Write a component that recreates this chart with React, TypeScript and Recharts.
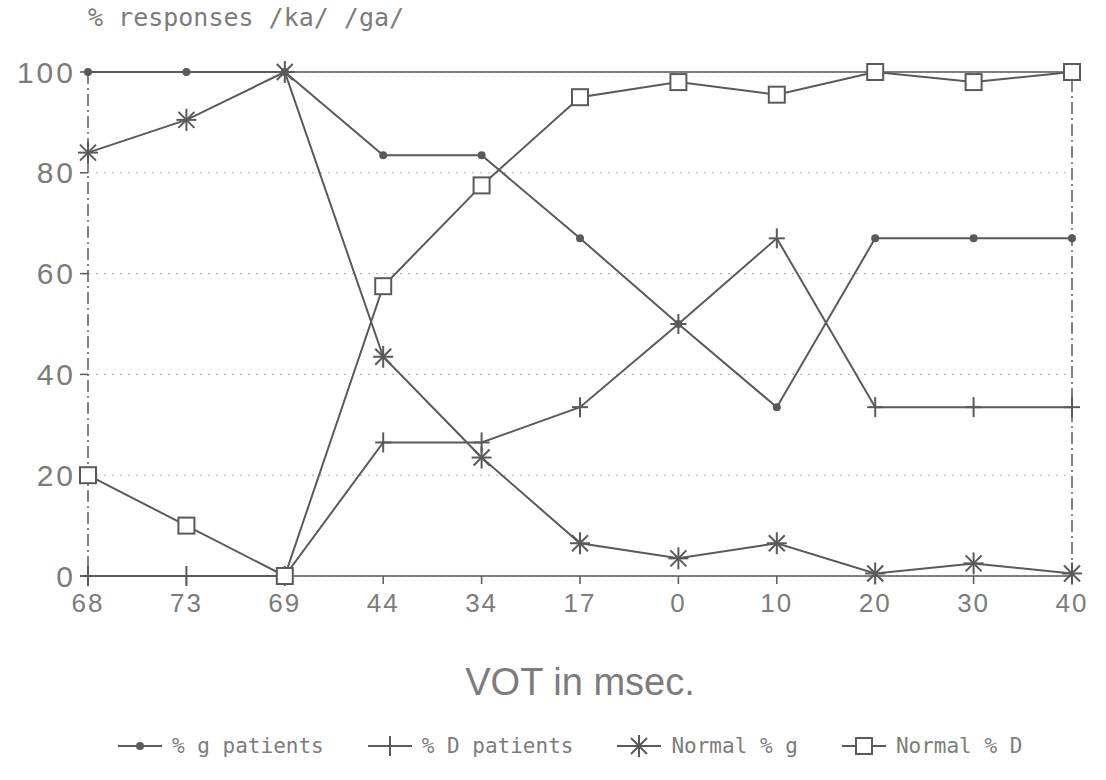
import React from 'react';
import {
  LineChart,
  Line,
  XAxis,
  YAxis,
  CartesianGrid,
  ReferenceLine,
  Label
} from 'recharts';

// VOT steps, as printed under the x axis
const votSteps = ['68', '73', '69', '44', '34', '17', '0', '10', '20', '30', '40'];

// % responses
const gPatients = [100, 100, 100, 83.5, 83.5, 67, 50, 33.5, 67, 67, 67];
const dPatients = [0, 0, 0, 26.5, 26.5, 33.5, 50, 67, 33.5, 33.5, 33.5];
const normalG = [84, 90.5, 100, 43.5, 23.5, 6.5, 3.5, 6.5, 0.5, 2.5, 0.5];
const normalD = [20, 10, 0, 57.5, 77.5, 95, 98, 95.5, 100, 98, 100];

const yTicks = [0, 20, 40, 60, 80, 100];

const chartData = votSteps.map((vot, i) => ({
  vot,
  gPatients: gPatients[i],
  dPatients: dPatients[i],
  normalG: normalG[i],
  normalD: normalD[i],
}));

const INK = '#5a5a5a';
const TEXT = '#7c7c7c';

const CircleMark = ({ cx, cy }: any) => <circle cx={cx} cy={cy} r={4} fill={INK} />;

const CrossMark = ({ cx, cy }: any) => (
  <g stroke={INK} strokeWidth={2}>
    <line x1={cx} y1={cy - 10} x2={cx} y2={cy + 10} />
    <line x1={cx - 8} y1={cy} x2={cx + 8} y2={cy} />
  </g>
);

const StarMark = ({ cx, cy }: any) => (
  <g stroke={INK} strokeWidth={2}>
    <line x1={cx} y1={cy - 11} x2={cx} y2={cy + 11} />
    <line x1={cx - 10} y1={cy} x2={cx + 10} y2={cy} />
    <line x1={cx - 8} y1={cy - 8} x2={cx + 8} y2={cy + 8} />
    <line x1={cx - 8} y1={cy + 8} x2={cx + 8} y2={cy - 8} />
  </g>
);

const SquareMark = ({ cx, cy }: any) => (
  <rect x={cx - 8} y={cy - 8} width={16} height={16} fill="#fff" stroke={INK} strokeWidth={2} />
);

const dotFn = (Mark: any) => (props: any) => {
  if (props.cx == null || props.cy == null) return <g key={props.key} />;
  return <Mark key={props.key} cx={props.cx} cy={props.cy} />;
};

const legendItems = [
  { label: '% g patients', Mark: CircleMark },
  { label: '% D patients', Mark: CrossMark },
  { label: 'Normal % g', Mark: StarMark },
  { label: 'Normal % D', Mark: SquareMark },
];

const monoFont = '"DejaVu Sans Mono", "Liberation Mono", monospace';
const sansFont = '"Liberation Sans", Arial, sans-serif';

export default function App() {
  return (
    <div style={{ position: 'absolute', left: 0, top: 0, width: 1106, height: 780, background: '#fff' }}>
      <div
        style={{
          position: 'absolute',
          left: 88,
          top: 3,
          fontFamily: monoFont,
          fontSize: 25,
          color: TEXT,
          whiteSpace: 'nowrap',
        }}
      >
        % responses /ka/ /ga/
      </div>

      <LineChart
        width={1106}
        height={780}
        data={chartData}
        margin={{ top: 72, right: 34, bottom: 0, left: 0 }}
      >
        <CartesianGrid horizontal vertical={false} stroke="#aaa" strokeDasharray="2 6" />
        <XAxis
          dataKey="vot"
          height={204}
          stroke={INK}
          strokeWidth={1.5}
          tickSize={8}
          tickMargin={10}
          tick={{ fill: TEXT, fontSize: 26, fontFamily: sansFont, letterSpacing: 2 }}
          interval={0}
        >
          <Label
            value="VOT in msec."
            position="insideTop"
            offset={92}
            style={{ fill: TEXT, fontSize: 38, fontFamily: sansFont }}
          />
        </XAxis>
        <YAxis
          width={88}
          domain={[0, 100]}
          ticks={yTicks}
          stroke={INK}
          strokeWidth={1.5}
          axisLine={{ strokeDasharray: '12 4 2 4' }}
          tickSize={8}
          tickMargin={4}
          tick={{ fill: TEXT, fontSize: 30, fontFamily: sansFont, letterSpacing: 3 }}
        />
        <ReferenceLine y={100} stroke={INK} strokeWidth={1.5} />
        <ReferenceLine x="40" stroke={INK} strokeWidth={1.5} strokeDasharray="12 4 2 4" />
        <Line
          type="linear"
          dataKey="gPatients"
          stroke={INK}
          strokeWidth={2}
          dot={dotFn(CircleMark)}
          isAnimationActive={false}
        />
        <Line
          type="linear"
          dataKey="dPatients"
          stroke={INK}
          strokeWidth={2}
          dot={dotFn(CrossMark)}
          isAnimationActive={false}
        />
        <Line
          type="linear"
          dataKey="normalG"
          stroke={INK}
          strokeWidth={2}
          dot={dotFn(StarMark)}
          isAnimationActive={false}
        />
        <Line
          type="linear"
          dataKey="normalD"
          stroke={INK}
          strokeWidth={2}
          dot={dotFn(SquareMark)}
          isAnimationActive={false}
        />
      </LineChart>

      <div
        style={{
          position: 'absolute',
          left: 118,
          top: 734,
          display: 'flex',
          alignItems: 'center',
          gap: 44,
          fontFamily: monoFont,
          fontSize: 21,
          color: TEXT,
          whiteSpace: 'nowrap',
        }}
      >
        {legendItems.map(({ label, Mark }) => (
          <div key={label} style={{ display: 'flex', alignItems: 'center', gap: 10 }}>
            <svg width={44} height={24}>
              <line x1={0} y1={12} x2={44} y2={12} stroke={INK} strokeWidth={2} />
              <Mark cx={22} cy={12} />
            </svg>
            <span>{label}</span>
          </div>
        ))}
      </div>
    </div>
  );
}
